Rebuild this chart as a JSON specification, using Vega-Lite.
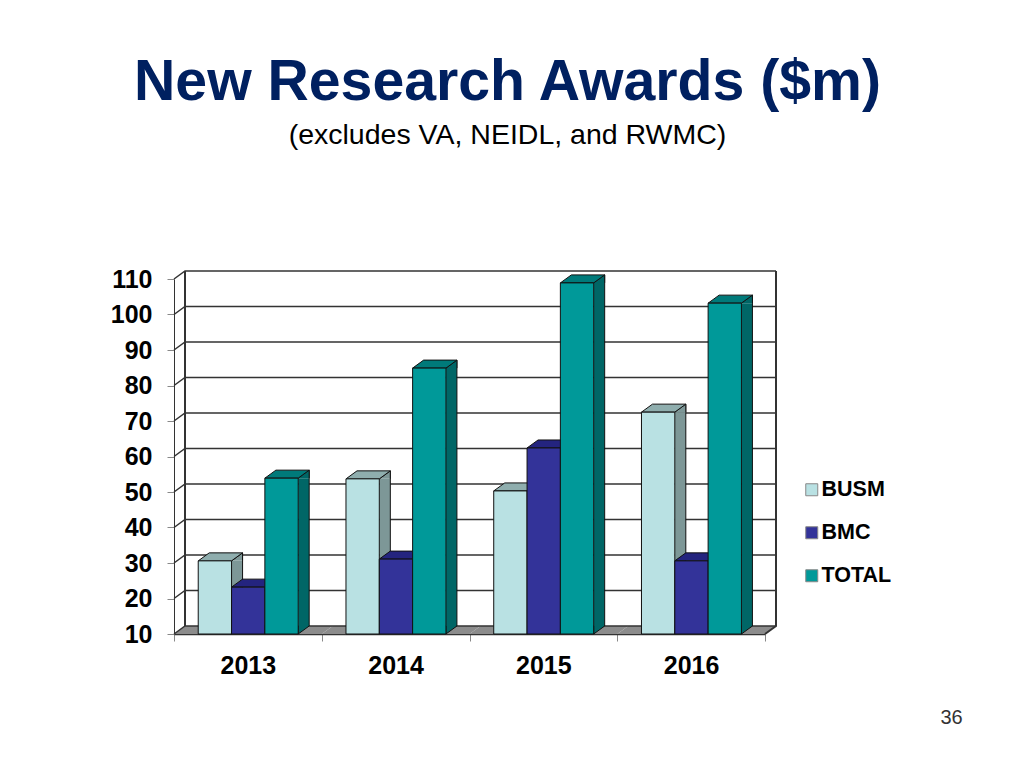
{
"$schema":"https://vega.github.io/schema/vega-lite/v6.json",
"width":591,"height":355,
"autosize":{"type":"none"},
"padding":{"left":174,"top":279,"right":259,"bottom":134},
"background":"white",
"title":{"text":"New Research Awards ($m)","subtitle":"(excludes VA, NEIDL, and RWMC)","anchor":"middle","frame":"group","dx":38,"offset":117,"font":"Liberation Sans","fontSize":57.2,"fontWeight":"bold","color":"#002060","subtitleFont":"Liberation Sans","subtitleFontSize":28.5,"subtitleColor":"#000000","subtitlePadding":8},
"datasets":{
"ticks":[{"tick":10},{"tick":20},{"tick":30},{"tick":40},{"tick":50},{"tick":60},{"tick":70},{"tick":80},{"tick":90},{"tick":100},{"tick":110}],
"years":[{"year":"2013"},{"year":"2014"},{"year":"2015"},{"year":"2016"}],
"awards":[
{"year":"2013","series":"BUSM","value":30.6},{"year":"2013","series":"BMC","value":23.2},{"year":"2013","series":"TOTAL","value":53.9},
{"year":"2014","series":"BUSM","value":53.7},{"year":"2014","series":"BMC","value":31.1},{"year":"2014","series":"TOTAL","value":84.9},
{"year":"2015","series":"BUSM","value":50.3},{"year":"2015","series":"BMC","value":62.4},{"year":"2015","series":"TOTAL","value":108.9},
{"year":"2016","series":"BUSM","value":72.5},{"year":"2016","series":"BMC","value":30.6},{"year":"2016","series":"TOTAL","value":103.2}
]},
"data":{"name":"awards"},
"layer":[
{"data":{"name":"years"},
"mark":{"type":"point","shape":"M-73.875 0L-62.875 -8L84.875 -8L73.875 0Z","size":4,"filled":true,"fill":"#8C8C8C","strokeWidth":0,"opacity":1},
"encoding":{"x":{"field":"year","type":"ordinal","scale":{"domain":["2013","2014","2015","2016"],"paddingInner":0,"paddingOuter":0},
"axis":{"title":"36","titleX":777,"titleY":73,"titleFont":"Liberation Sans","titleFontSize":20,"titleFontWeight":"normal","titleColor":"#333333","labelFont":"Liberation Sans","labelFontSize":25,"labelFontWeight":"bold","labelColor":"#000000","labelAngle":0,"labelPadding":12,"tickBand":"extent","tickSize":7,"tickColor":"#888888","domainColor":"#333333","domainWidth":1.5,"grid":false}},
"y":{"datum":10,"type":"quantitative","scale":{"domain":[10,110],"nice":false,"zero":false},
"axis":{"title":"","tickCount":11,"labelFont":"Liberation Sans","labelFontSize":25,"labelFontWeight":"bold","labelColor":"#000000","labelPadding":15,"tickSize":7,"tickColor":"#888888","domainColor":"#333333","domainWidth":1,"grid":false,"labelOverlap":false,"labelBound":false,"labelFlush":false}}}},
{"data":{"name":"ticks"},
"mark":{"type":"point","shape":"M-73.875 0L-62.875 -8L528.125 -8","size":4,"filled":false,"stroke":"#333333","strokeWidth":1.5,"opacity":1},
"encoding":{"x":{"datum":"2013","type":"ordinal"},"y":{"field":"tick","type":"quantitative"}}},
{"data":{"name":"ticks"},"transform":[{"filter":"datum.tick===110"}],
"mark":{"type":"point","shape":"M-62.875 -8V347M528.125 -8V347L517.125 355","size":4,"filled":false,"stroke":"#333333","strokeWidth":2,"opacity":1},
"encoding":{"x":{"datum":"2013","type":"ordinal"},"y":{"field":"tick","type":"quantitative"}}},

{"transform":[{"filter":"datum.series==='BUSM'"}],"mark":{"type":"bar","width":11,"xOffset":-10.8,"y2Offset":-8,"fill":"#7D9797","opacity":1},
"encoding":{"x":{"field":"year","type":"ordinal"},"y":{"field":"value","type":"quantitative"},"y2":{"datum":10}}},
{"transform":[{"filter":"datum.series==='BMC'"}],"mark":{"type":"bar","width":11,"xOffset":22.5,"y2Offset":-8,"fill":"#24247F","opacity":1},
"encoding":{"x":{"field":"year","type":"ordinal"},"y":{"field":"value","type":"quantitative"},"y2":{"datum":10}}},
{"transform":[{"filter":"datum.series==='TOTAL'"}],"mark":{"type":"bar","width":11,"xOffset":55.8,"y2Offset":-8,"fill":"#006666","opacity":1},
"encoding":{"x":{"field":"year","type":"ordinal"},"y":{"field":"value","type":"quantitative"},"y2":{"datum":10}}},

{"transform":[{"filter":"datum.series==='BUSM'"}],"mark":{"type":"rule","xOffset":-5.3,"yOffset":-8,"y2Offset":-8,"stroke":"#111111","strokeWidth":1},
"encoding":{"x":{"field":"year","type":"ordinal"},"y":{"field":"value","type":"quantitative"},"y2":{"datum":10}}},
{"transform":[{"filter":"datum.series==='BMC'"}],"mark":{"type":"rule","xOffset":28,"yOffset":-8,"y2Offset":-8,"stroke":"#111111","strokeWidth":1},
"encoding":{"x":{"field":"year","type":"ordinal"},"y":{"field":"value","type":"quantitative"},"y2":{"datum":10}}},
{"transform":[{"filter":"datum.series==='TOTAL'"}],"mark":{"type":"rule","xOffset":61.3,"yOffset":-8,"y2Offset":-8,"stroke":"#111111","strokeWidth":1},
"encoding":{"x":{"field":"year","type":"ordinal"},"y":{"field":"value","type":"quantitative"},"y2":{"datum":10}}},

{"mark":{"type":"point","shape":"M16.65 0L27.65 -8V0","size":4,"filled":true,"stroke":"#111111","strokeWidth":1,"opacity":1},
"encoding":{"x":{"field":"year","type":"ordinal"},"xOffset":{"field":"series","type":"nominal","scale":{"domain":["BUSM","BMC","TOTAL"],"paddingInner":0,"paddingOuter":0.717,"align":0.507}},"y":{"field":"value","type":"quantitative"},
"color":{"field":"series","type":"nominal","legend":null,"scale":{"domain":["BUSM","BMC","TOTAL"],"range":["#7D9797","#24247F","#006666"]}}}},
{"mark":{"type":"point","shape":"M16.65 -8V0L27.65 -8","size":4,"filled":true,"stroke":"#111111","strokeWidth":1,"opacity":1},
"encoding":{"x":{"field":"year","type":"ordinal"},"xOffset":{"field":"series","type":"nominal"},"y":{"datum":10,"type":"quantitative"},
"color":{"field":"series","type":"nominal","legend":null,"scale":{"domain":["BUSM","BMC","TOTAL"],"range":["#7D9797","#24247F","#006666"]}}}},
{"mark":{"type":"point","shape":"M-16.65 0L-5.65 -8L27.65 -8L16.65 0Z","size":4,"filled":true,"stroke":"#111111","strokeWidth":1,"opacity":1},
"encoding":{"x":{"field":"year","type":"ordinal"},"xOffset":{"field":"series","type":"nominal"},"y":{"field":"value","type":"quantitative"},
"color":{"field":"series","type":"nominal","legend":null,"scale":{"domain":["BUSM","BMC","TOTAL"],"range":["#8FAEAE","#24247F","#007A7A"]}}}},
{"mark":{"type":"bar","stroke":"#111111","strokeWidth":1,"opacity":1},
"encoding":{"x":{"field":"year","type":"ordinal"},"xOffset":{"field":"series","type":"nominal"},"y":{"field":"value","type":"quantitative"},"y2":{"datum":10},
"color":{"field":"series","type":"nominal","scale":{"domain":["BUSM","BMC","TOTAL"],"range":["#B9E1E3","#333399","#009999"]},
"legend":{"title":null,"orient":"none","legendX":627,"legendY":200,"symbolType":"square","symbolSize":144,"symbolStrokeColor":"#888888","symbolStrokeWidth":1,"labelFont":"Liberation Sans","labelFontSize":21.5,"labelFontWeight":"bold","labelColor":"#000000","labelOffset":-1,"rowPadding":20,"padding":0,"symbolOpacity":1}}}}
],
"resolve":{"scale":{"color":"independent"}},
"config":{"view":{"stroke":null},"axisQuantitative":{"tickCount":11,"labelOverlap":false},"axis":{"labelOverlap":false}}
}
